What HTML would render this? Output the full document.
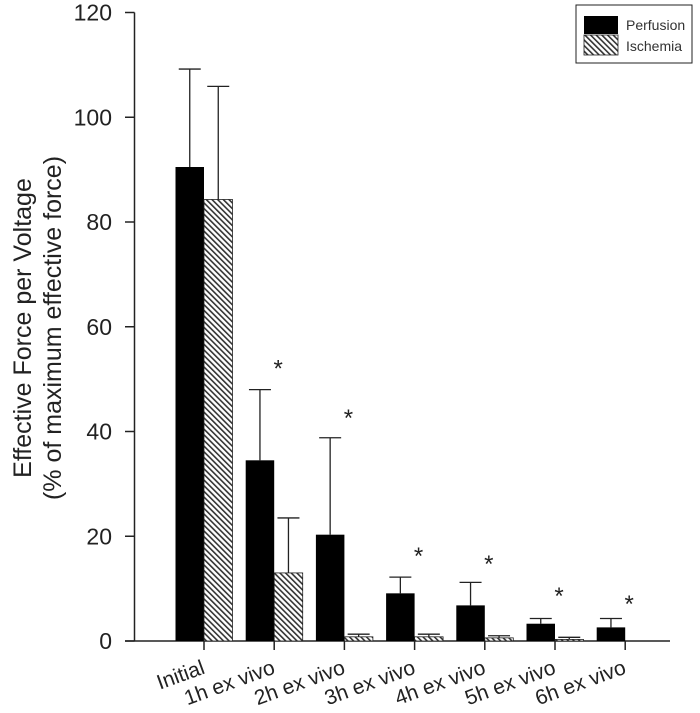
<!DOCTYPE html>
<html><head><meta charset="utf-8"><style>
body{margin:0;background:#fff;}
svg{display:block;font-family:"Liberation Sans",Arial,sans-serif;}
</style></head><body>
<svg id="chart" width="700" height="713" viewBox="0 0 700 713">
<defs>
<pattern id="hatch" patternUnits="userSpaceOnUse" width="4" height="4" patternTransform="rotate(-45)">
<rect width="4" height="4" fill="#fff"/><rect width="1.6" height="4" fill="#333"/>
</pattern>
</defs>
<g id="plot"></g>
<text transform="translate(31,328) rotate(-90)" text-anchor="middle" font-size="25" fill="#222">Effective Force per Voltage</text>
<text transform="translate(61,328) rotate(-90)" text-anchor="middle" font-size="25" fill="#222">(% of maximum effective force)</text>
<g>
<rect x="576" y="5" width="116" height="58" fill="#fff" stroke="#222" stroke-width="1"/>
<rect x="584" y="16" width="34" height="18" fill="#000"/>
<rect x="584" y="35" width="34" height="20" fill="url(#hatch)" stroke="#222" stroke-width="0.8"/>
<text x="626" y="30" font-size="14" fill="#333">Perfusion</text>
<text x="626" y="51" font-size="14" fill="#333">Ischemia</text>
</g>
</svg>
<script>
const categories=["Initial","1h ex vivo","2h ex vivo","3h ex vivo","4h ex vivo","5h ex vivo","6h ex vivo"];
const perfusion=[90.5,34.5,20.3,9.1,6.8,3.3,2.6];
const perfusionErr=[109.2,48,38.8,12.2,11.2,4.3,4.3];
const ischemia=[84.3,13,0.8,0.8,0.6,0.3,0];
const ischemiaErr=[105.9,23.5,1.3,1.3,1.0,0.7,0];
const starLevels=[null,53.2,43.7,17.4,15.8,9.7,8.2];
const yTicks=[0,20,40,60,80,100,120];

const NS="http://www.w3.org/2000/svg";
const g=document.getElementById('plot');
const y=v=>641-v*(641-12.5)/120;
const xc=i=>204+i*70.2;
const BW=28.5;
function mk(tag,attrs,parent){const e=document.createElementNS(NS,tag);for(const k in attrs)e.setAttribute(k,attrs[k]);(parent||g).appendChild(e);return e;}

let ax=mk('line',{x1:134.5,y1:y(120),x2:134.5,y2:641,stroke:'#222','stroke-width':1.5});


let xa=mk('line',{x1:125,y1:641,x2:670,y2:641,stroke:'#222','stroke-width':1.5});


yTicks.forEach(t=>{
  const tk=mk('line',{x1:125,y1:y(t),x2:134.5,y2:y(t),stroke:'#222','stroke-width':1.5});
  
  
  const tl=mk('text',{x:112,y:y(t)+8,'text-anchor':'end','font-size':23,fill:'#222'});
  tl.textContent=t;
  
  
});
categories.forEach((c,i)=>{
  const x=xc(i);
  const tk=mk('line',{x1:x,y1:641,x2:x,y2:650,stroke:'#222','stroke-width':1.5});
  
  
  const tl=mk('text',{transform:`translate(${x+2},${673}) rotate(-20)`,'text-anchor':'end','font-size':21,fill:'#222'});
  tl.textContent=c;
  
  
  [[perfusion,perfusionErr,x-BW/2],[ischemia,ischemiaErr,x+BW/2]].forEach(([v,e,cx])=>{
    if(e[i]>v[i]){
      const l=mk('line',{x1:cx,y1:y(v[i]),x2:cx,y2:y(e[i]),stroke:'#222','stroke-width':1.3});
      
      
      const cp=mk('line',{x1:cx-11,y1:y(e[i]),x2:cx+11,y2:y(e[i]),stroke:'#222','stroke-width':1.3});
      
      
    }
  });
  const bp=mk('rect',{x:x-BW,y:y(perfusion[i]),width:BW,height:641-y(perfusion[i]),fill:'#000'});
  
  
  const bi=mk('rect',{x:x,y:y(ischemia[i]),width:BW,height:641-y(ischemia[i]),fill:'url(#hatch)',stroke:'#222','stroke-width':0.8});
  
  
  if(starLevels[i]!==null){
    const s=mk('text',{x:x+4,y:y(starLevels[i])+14,'text-anchor':'middle','font-size':24,fill:'#222'});
    s.textContent='*';
    
    
  }
});
</script>
</body></html>
